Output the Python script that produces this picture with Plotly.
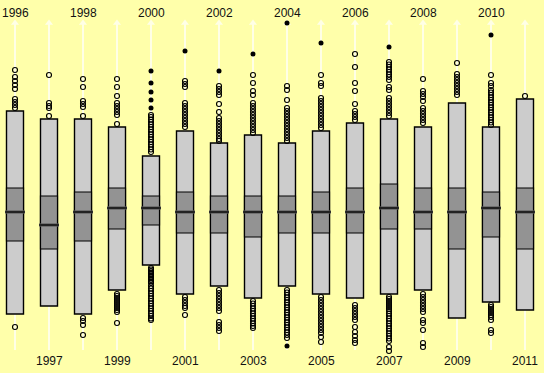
import plotly.graph_objects as go

years = list(range(1996, 2012))
outer_hi = [262, 254, 254, 246, 217, 242, 230, 238, 230, 242, 250, 254, 246, 270, 246, 274]
q3 = [185, 177, 181, 185, 177, 181, 177, 177, 177, 181, 185, 189, 185, 185, 181, 185]
median = [161, 148, 161, 165, 165, 161, 161, 161, 161, 161, 161, 165, 161, 161, 165, 161]
q1 = [132, 124, 132, 144, 148, 140, 140, 136, 140, 140, 140, 144, 144, 124, 136, 124]
outer_lo = [59, 67, 59, 83, 108, 79, 87, 75, 87, 79, 75, 79, 83, 55, 71, 63]

outliers = [
    [303, 296, 292, 288, 284, 274, 271, 268, 265, 46],
    [298, 270, 267, 265, 257],
    [294, 286, 272, 269, 266, 257, 55, 52, 48, 38],
    [294, 286, 277, 270, 267, 264, 261, 258, 249, 79, 77, 75, 73, 71, 69, 67, 65, 63, 61, 50],
    [258, 256, 253.5, 251, 248.5, 246, 243.5, 241, 238.5, 236, 233.5, 231, 228.5, 226, 223.5, 221,
     105, 103.5, 102, 100.5, 99, 97.5, 96, 94.5, 93, 91.5, 90, 87, 84.5, 82, 79.5, 77, 74.5, 72,
     69.5, 67, 64.5, 62, 59.5, 57, 54.5, 53],
    [292, 289, 286, 270, 267, 264, 261, 258, 255, 252, 249, 246, 76, 73, 70, 67, 65, 58],
    [287, 284, 281, 278, 269, 261, 255, 252, 249, 246, 243, 240, 237, 234, 232,
     83, 80, 77, 74, 71, 68, 65, 62, 51, 48, 45, 42],
    [298, 290, 282, 278, 270, 267, 264, 261, 258, 255, 252, 249, 246, 243, 240,
     72, 69.5, 67, 64.5, 62, 59.5, 57, 54.5, 52, 49.5, 47, 45],
    [287, 283, 273, 265, 262, 259, 256, 253, 250, 247, 244, 241, 238, 235, 232,
     83, 80.5, 78, 75.5, 73, 70.5, 68, 65.5, 63, 60.5, 58, 55.5, 53, 50.5, 48, 45.5, 43, 40.5, 38, 35],
    [298, 290, 287, 275, 272, 269, 266, 263, 260, 257, 254, 251, 248, 245,
     76, 73, 70, 67, 64, 61, 58, 55, 52, 49, 46, 43, 40, 36, 31],
    [319, 306, 290, 282, 269, 262, 259, 256, 253, 68, 65, 62, 59, 56, 53, 46, 41, 37, 33, 30],
    [311, 308.5, 306, 303.5, 301, 298.5, 296, 293, 286, 283, 275, 272, 269, 266, 263, 260, 257,
     76, 74, 72, 70, 68, 66, 64, 62, 59.5, 57, 54.5, 52, 49.5, 47, 44.5, 42, 39.5, 37, 34.5, 32, 26, 22],
    [294, 282, 279, 276, 272, 265, 262, 259, 256, 253, 250, 79, 76, 73, 70, 67, 64, 61, 53, 50, 43, 30, 26],
    [310, 299, 296, 293, 290, 287, 284, 281, 278],
    [298, 290, 287, 283, 280.5, 278, 275.5, 273, 270.5, 268, 265.5, 263, 260.5, 258, 255.5, 253, 250.5, 248,
     68, 66, 64, 62, 60, 58, 56, 53, 43, 40],
    [277],
]
extremes = [[], [], [], [], [302, 290, 281, 273, 265], [322], [302], [319], [350, 27], [330],
            [], [326], [], [], [338], []]

axis_lo, axis_hi = 23, 350

BG = "#FFFFAA"
GUIDE = "#FFFFE6"
idx = list(range(len(years)))

fig = go.Figure()

# pale vertical guides (as thin bars so they sit beneath the boxes)
fig.add_trace(go.Bar(x=idx, y=[axis_hi - axis_lo] * len(idx), base=[axis_lo] * len(idx), width=0.068,
                     marker=dict(color=GUIDE, line=dict(width=0)), hoverinfo="skip", showlegend=False))

# outer light box
fig.add_trace(go.Bar(x=idx, y=[h - l for h, l in zip(outer_hi, outer_lo)], base=outer_lo, width=0.5,
                     marker=dict(color="#CCCCCC", line=dict(color="#000000", width=1.4)),
                     showlegend=False))
# inner dark box
fig.add_trace(go.Bar(x=idx, y=[h - l for h, l in zip(q3, q1)], base=q1, width=0.5,
                     marker=dict(color="#939393", line=dict(color="#000000", width=1.2)),
                     showlegend=False))

# arrowheads on the guides
fig.add_trace(go.Scatter(x=idx, y=[axis_hi] * len(idx), mode="markers",
                         marker=dict(symbol="triangle-up", size=7, color=GUIDE, line=dict(width=0)),
                         hoverinfo="skip", showlegend=False))

# median lines
mx, my = [], []
for i, m in zip(idx, median):
    mx += [i - 0.29, i + 0.29, None]
    my += [m, m, None]
fig.add_trace(go.Scatter(x=mx, y=my, mode="lines", line=dict(color="#5a5a5a", width=3.2),
                         hoverinfo="skip", showlegend=False))
fig.add_trace(go.Scatter(x=mx, y=my, mode="lines", line=dict(color="#111111", width=1.5),
                         hoverinfo="skip", showlegend=False))

# outliers
ox, oy = [], []
for i, vals in zip(idx, outliers):
    ox += [i] * len(vals)
    oy += vals
fig.add_trace(go.Scatter(x=ox, y=oy, mode="markers",
                         marker=dict(symbol="circle-open", size=5, color="#000000", line=dict(width=1.1)),
                         showlegend=False))
ex, ey = [], []
for i, vals in zip(idx, extremes):
    ex += [i] * len(vals)
    ey += vals
fig.add_trace(go.Scatter(x=ex, y=ey, mode="markers",
                         marker=dict(symbol="circle", size=5, color="#000000"),
                         showlegend=False))

W, H = 544, 373
annotations = []
for i, yr in zip(idx, years):
    top = (i % 2 == 0)
    annotations.append(dict(x=i, xref="x", y=(1 - 12.5 / H) if top else (1 - 361 / H), yref="paper",
                            text=str(yr), showarrow=False, xanchor="center", yanchor="middle",
                            font=dict(family="Liberation Sans, Arial, sans-serif", size=12, color="#111111")))

fig.update_layout(
    width=W, height=H, margin=dict(l=0, r=0, t=0, b=0),
    paper_bgcolor=BG, plot_bgcolor=BG,
    barmode="overlay", bargap=0,
    xaxis=dict(range=[-15 / 34, len(years) - 15 / 34], visible=False, fixedrange=True),
    yaxis=dict(range=[0, 373], visible=False, fixedrange=True),
    annotations=annotations,
    showlegend=False,
)

fig.write_html("out.html", config={"displayModeBar": False, "staticPlot": True},
               post_script="document.body.style.margin='0';document.body.style.overflow='hidden';")
